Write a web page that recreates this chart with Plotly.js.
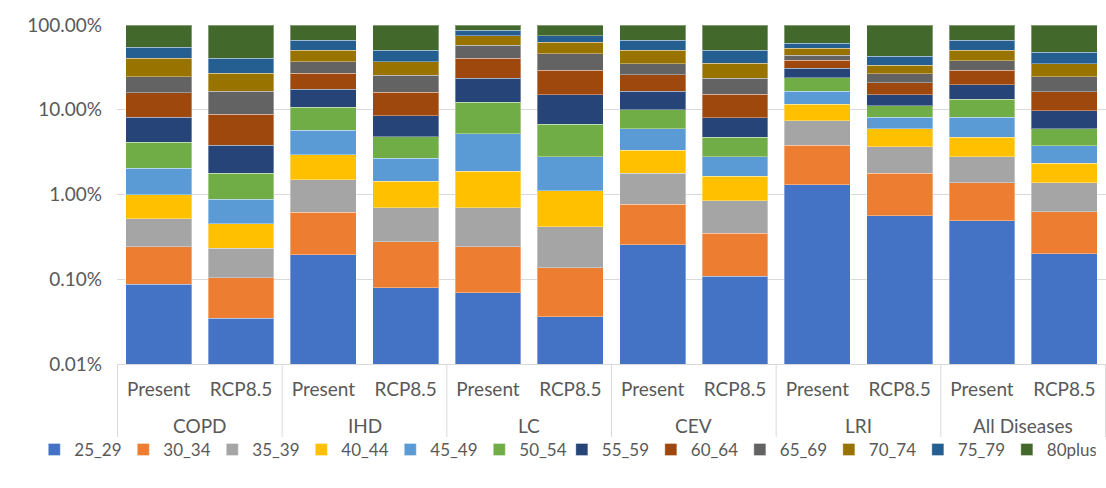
<!DOCTYPE html>
<html>
<head>
<meta charset="utf-8">
<script src="https://cdn.plot.ly/plotly-3.0.1.min.js"></script>
<style>
  html, body { margin: 0; padding: 0; background: #fff; }
  #chart { width: 1106px; height: 488px; }
</style>
</head>
<body>
<div id="chart"></div>
<script>
// Disease groups and scenarios (one bar per pair)
const diseases = ['COPD', 'COPD', 'IHD', 'IHD', 'LC', 'LC', 'CEV', 'CEV', 'LRI', 'LRI', 'All Diseases', 'All Diseases'];
const scenarios = ['Present', 'RCP8.5', 'Present', 'RCP8.5', 'Present', 'RCP8.5', 'Present', 'RCP8.5', 'Present', 'RCP8.5', 'Present', 'RCP8.5'];

// Share of attributable deaths (%) by age group, one value per bar
const a25_29  = [0.0871, 0.0346, 0.195, 0.0794, 0.0694, 0.0359, 0.254, 0.108, 1.31, 0.562, 0.487, 0.199];
const a30_34  = [0.155, 0.0694, 0.422, 0.198, 0.173, 0.101, 0.512, 0.240, 2.50, 1.23, 0.89, 0.423];
const a35_39  = [0.272, 0.128, 0.883, 0.422, 0.457, 0.277, 1.02, 0.497, 3.62, 1.87, 1.41, 0.758];
const a40_44  = [0.486, 0.221, 1.45, 0.741, 1.19, 0.696, 1.56, 0.795, 4.17, 2.31, 1.98, 0.95];
const a45_49  = [1.04, 0.424, 2.77, 1.23, 3.33, 1.68, 2.62, 1.15, 4.9, 2.18, 3.38, 1.44];
const a50_54  = [2.12, 0.913, 4.98, 2.10, 6.98, 4.00, 4.03, 1.98, 7.2, 2.95, 5.15, 2.16];
const a55_59  = [3.99, 2.02, 6.7, 3.74, 11.3, 8.31, 6.5, 3.28, 7.1, 4.0, 6.5, 3.74];
const a60_64  = [7.75, 5.02, 9.5, 7.59, 17.0, 14.1, 9.4, 7.15, 7.5, 5.6, 9.4, 6.63];
const a65_69  = [8.6, 7.67, 10.0, 9.6, 17.1, 16.7, 9.0, 8.3, 5.6, 5.9, 8.7, 8.2];
const a70_74  = [16.0, 10.4, 13.4, 11.2, 17.2, 16.6, 15.4, 11.8, 9.2, 7.1, 12.4, 10.4];
const a75_79  = [14.1, 13.6, 15.6, 13.8, 11.8, 12.3, 15.6, 15.0, 7.7, 9.0, 15.6, 12.7];
const a80plus = [45.4, 59.5, 34.1, 49.3, 13.4, 25.2, 34.1, 49.7, 39.2, 57.3, 34.1, 52.4];

const ageNames = ['25_29', '30_34', '35_39', '40_44', '45_49', '50_54', '55_59', '60_64', '65_69', '70_74', '75_79', '80plus'];
const ageSeries = [a25_29, a30_34, a35_39, a40_44, a45_49, a50_54, a55_59, a60_64, a65_69, a70_74, a75_79, a80plus];
const ageColors = ['#4472C4', '#ED7D31', '#A5A5A5', '#FFC000', '#5B9BD5', '#70AD47',
                   '#264478', '#9E480E', '#636363', '#997300', '#255E91', '#43682B'];

const tickVals = [0.01, 0.1, 1, 10, 100];
const tickText = ['0.01%', '0.10%', '1.00%', '10.00%', '100.00%'];

const FONT = 'Lato, "Open Sans", sans-serif';
const TEXT = '#595959';
const RULE = '#D9D9D9';

// one unique category per bar; the scenario name is shown as its tick label
const barIds = diseases.map((d, i) => d + ' | ' + scenarios[i]);

// the legend row is split over two legend boxes so it stays on one line
const traces = ageSeries.map((vals, i) => ({
  type: 'bar',
  name: ageNames[i],
  x: barIds,
  y: vals,
  legend: i < 6 ? 'legend' : 'legend2',
  marker: { color: ageColors[i], line: { color: 'rgba(255,255,255,0.35)', width: 1 } },
  hoverinfo: 'skip'
}));

// disease names centred under their pair of bars, with dividers between groups
const groupNames = [...new Set(diseases)];
const annotations = [];
const shapes = [];
groupNames.forEach(g => {
  const idx = diseases.map((d, i) => d === g ? i : -1).filter(i => i >= 0);
  const first = idx[0], last = idx[idx.length - 1];
  annotations.push({
    xref: 'x', yref: 'paper',
    x: (first + last) / 2, y: -0.18,
    xanchor: 'center', yanchor: 'middle',
    text: g, showarrow: false,
    font: { family: FONT, size: 19, color: TEXT }
  });
  shapes.push({
    type: 'line', xref: 'x', yref: 'paper', layer: 'above',
    x0: first - 0.5, x1: first - 0.5, y0: 0, y1: -0.215,
    line: { color: RULE, width: 1 }
  });
});
shapes.push({
  type: 'line', xref: 'x', yref: 'paper', layer: 'above',
  x0: diseases.length - 0.5, x1: diseases.length - 0.5, y0: 0, y1: -0.215,
  line: { color: RULE, width: 1 }
});

const legendStyle = {
  orientation: 'h',
  xref: 'container',
  xanchor: 'left',
  yref: 'container',
  y: 0.078,
  yanchor: 'middle',
  traceorder: 'normal',
  bgcolor: 'rgba(0,0,0,0)',
  entrywidth: 44,
  entrywidthmode: 'pixels',
  font: { family: FONT, size: 17, color: TEXT },
  itemwidth: 30,
  itemclick: false
};

const layout = {
  width: 1106,
  height: 488,
  margin: { l: 117, r: 0, t: 25, b: 124, autoexpand: false },
  paper_bgcolor: '#ffffff',
  plot_bgcolor: '#ffffff',
  barmode: 'stack',
  bargap: 0.2,
  showlegend: true,
  font: { family: FONT, size: 19, color: TEXT },
  xaxis: {
    type: 'category',
    automargin: false,
    tickangle: 0,
    tickvals: barIds,
    ticktext: scenarios,
    showgrid: false,
    showline: true,
    linecolor: RULE,
    linewidth: 1,
    ticks: '',
    ticklabelstandoff: 8,
    tickfont: { family: FONT, size: 19, color: TEXT }
  },
  yaxis: {
    type: 'log',
    automargin: false,
    range: [-2, 2],
    tickvals: tickVals,
    ticktext: tickText,
    showgrid: true,
    gridcolor: RULE,
    gridwidth: 1,
    showline: false,
    zeroline: false,
    ticks: '',
    ticklabelstandoff: 14,
    tickfont: { family: FONT, size: 19, color: TEXT }
  },
  legend: Object.assign({}, legendStyle, { x: 0.031 }),
  legend2: Object.assign({}, legendStyle, { x: 0.508 }),
  annotations: annotations,
  shapes: shapes
};

Plotly.newPlot('chart', traces, layout, { displayModeBar: false, staticPlot: true });
</script>
</body>
</html>
